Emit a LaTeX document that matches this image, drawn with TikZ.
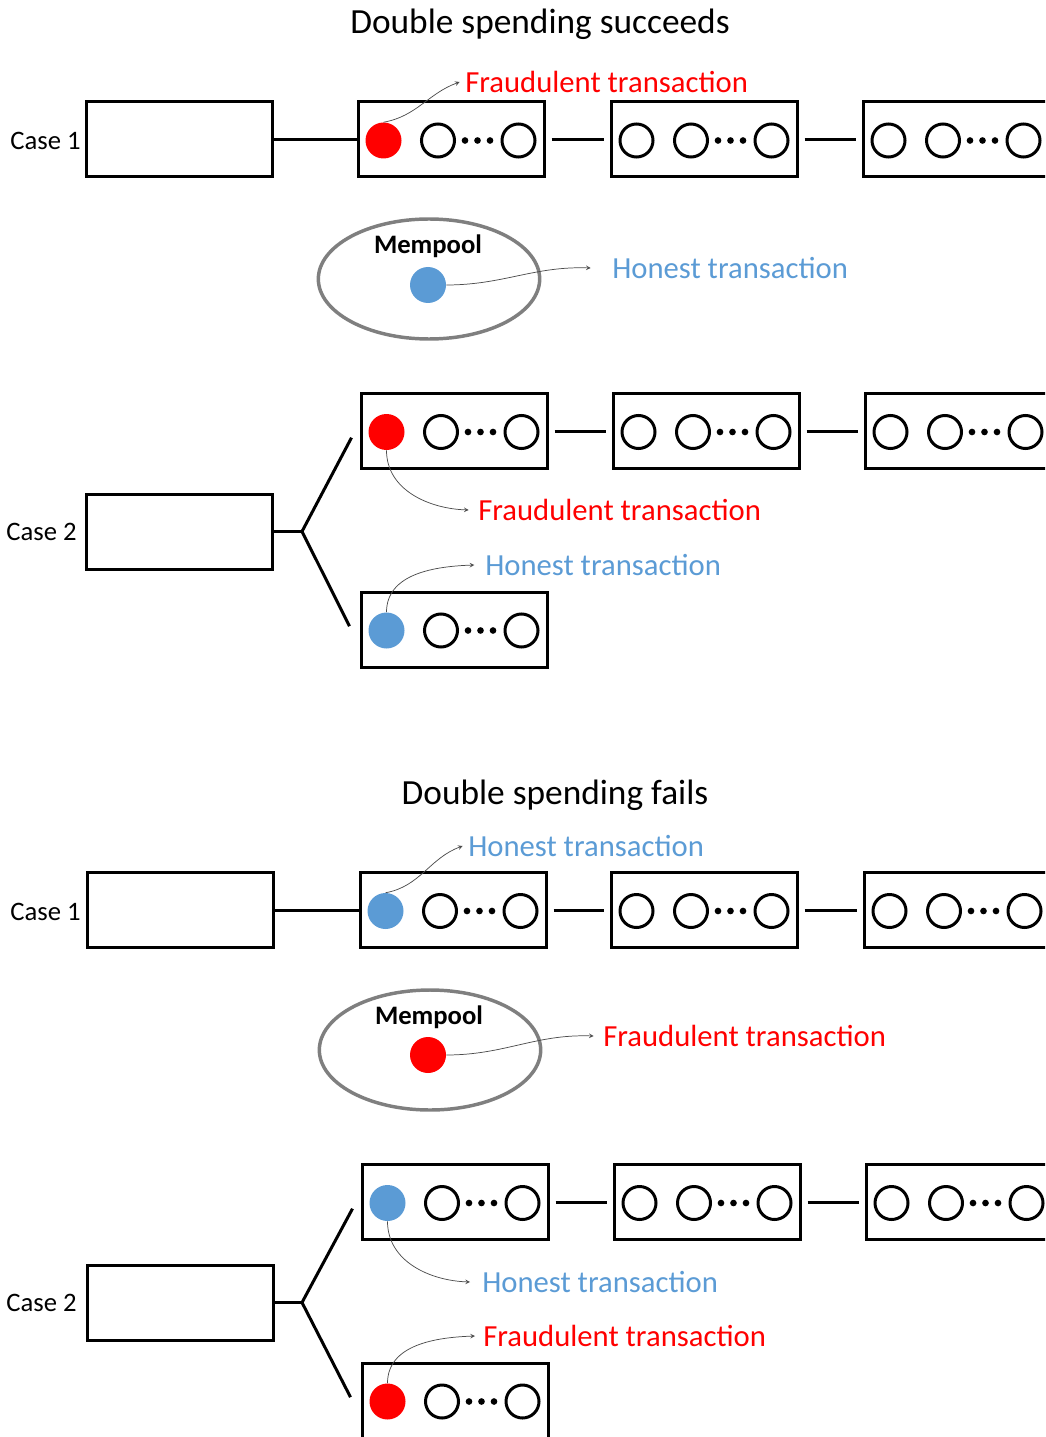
\documentclass[tikz,border=0pt]{standalone}
\usepackage{fontspec}
\setmainfont{Carlito}
\usetikzlibrary{shapes.geometric,arrows}
\definecolor{fraudred}{HTML}{FF0000}
\definecolor{honestblue}{HTML}{5B9BD5}
\definecolor{poolgray}{HTML}{7F7F7F}
\tikzstyle{block} = [ rectangle, draw = black, line width = 2.25pt, %
                      minimum width = 139.5pt, minimum height = 56.25pt, %
                      inner sep = 0pt ]
\tikzstyle{tx} = [ circle, draw = black, line width = 2.25pt, %
                   minimum size = 24.75pt, inner sep = 0pt ]
\tikzstyle{txdot} = [ circle, minimum size = 27pt, inner sep = 0pt ]
\tikzstyle{fraudtx} = [ txdot, fill = fraudred ]
\tikzstyle{honesttx} = [ txdot, fill = honestblue ]
\tikzstyle{ell} = [ circle, fill = black, minimum size = 5pt, inner sep = 0pt ]
\tikzstyle{link} = [ line width = 2.25pt ]
\tikzstyle{arrow} = [ line width = 0.55pt, ->, >=stealth, draw = black!70 ]
\tikzstyle{heading} = [ font = \fontsize{26.5}{30}\selectfont ]
\tikzstyle{caselabel} = [ anchor = east, inner sep = 0pt, %
                          font = \fontsize{20}{24}\selectfont ]
\tikzstyle{txlabel} = [ anchor = west, inner sep = 0pt, %
                        font = \fontsize{23}{27}\selectfont ]
\tikzstyle{fraud} = [ txlabel, text = fraudred ]
\tikzstyle{honest} = [ txlabel, text = honestblue ]
\tikzstyle{mempool} = [ ellipse, draw = poolgray, line width = 2.6pt, %
                        minimum width = 166pt, minimum height = 90pt ]
\tikzstyle{poolname} = [ font = \fontsize{20}{24}\selectfont\bfseries ]
% block: name, x, y, style of the first transaction
\newcommand{\chainblock}[4]{%
  \node (#1) [block] at (#2,#3) {};
  \node (#1-tx) [#4] at ({#2-67.5},{#3+1}) {};
  \node (#1-a) [tx] at ({#2-13},{#3+1}) {};
  \node (#1-d1) [ell] at ({#2+14},{#3+1}) {};
  \node (#1-d2) [ell] at ({#2+26.5},{#3+1}) {};
  \node (#1-d3) [ell] at ({#2+39},{#3+1}) {};
  \node (#1-b) [tx] at ({#2+67.5},{#3+1}) {};}

\begin{document}
\begin{tikzpicture}[x=0.75pt, y=-0.75pt]
      \useasboundingbox (0,0) rectangle (1045,1437);
      \clip (0,0) rectangle (1045,1437);
      % Double spending succeeds
      \node (title1) [heading] at (540,24) {Double spending succeeds};
      % Case 1
      \node (case1a) [caselabel] at (81,141) {Case 1};
      \node (g1) [block] at (179,139.5) {};
      \chainblock{a1}{451}{139.5}{fraudtx}
      \chainblock{a2}{704}{139.5}{tx}
      \chainblock{a3}{956}{139.5}{tx}
      \node (flab1) [fraud] at (465,82) {Fraudulent transaction};
      % Mempool
      \node (pool1) [mempool] at (429,279) {};
      \node (pool1-name) [poolname] at (428,246) {Mempool};
      \node (pool1-tx) [honesttx] at (428,285) {};
      \node (hlab1) [honest] at (612,268) {Honest transaction};
      % Case 2
      \node (case2a) [caselabel] at (77,532) {Case 2};
      \node (g2) [block] at (179,531.5) {};
      \chainblock{b1}{454}{431}{fraudtx}
      \chainblock{b2}{706}{431}{tx}
      \chainblock{b3}{958}{431}{tx}
      \chainblock{b4}{454}{629.5}{honesttx}
      \coordinate (fork2) at (302,531.5);
      \node (flab2) [fraud] at (478,510) {Fraudulent transaction};
      \node (hlab2) [honest] at (485,565) {Honest transaction};
      % Double spending fails
      \node (title2) [heading] at (555,795) {Double spending fails};
      % Case 1
      \node (case1b) [caselabel] at (81,912) {Case 1};
      \node (g3) [block] at (180,910) {};
      \chainblock{c1}{453}{910}{honesttx}
      \chainblock{c2}{704}{910}{tx}
      \chainblock{c3}{957}{910}{tx}
      \node (hlab3) [honest] at (468,846) {Honest transaction};
      % Mempool
      \node (pool2) [mempool] at (430,1050) {};
      \node (pool2-name) [poolname] at (429,1017) {Mempool};
      \node (pool2-tx) [fraudtx] at (428,1055) {};
      \node (flab3) [fraud] at (603,1036) {Fraudulent transaction};
      % Case 2
      \node (case2b) [caselabel] at (77,1303) {Case 2};
      \node (g4) [block] at (180,1302.5) {};
      \chainblock{d1}{455}{1202}{honesttx}
      \chainblock{d2}{707}{1202}{tx}
      \chainblock{d3}{959}{1202}{tx}
      \chainblock{d4}{455}{1400.5}{fraudtx}
      \coordinate (fork4) at (302,1302.5);
      \node (hlab4) [honest] at (482,1282) {Honest transaction};
      \node (flab4) [fraud] at (483,1336) {Fraudulent transaction};
      % Links
      \draw [link] (g1.east) -- (a1.west);
      \draw [link] ([xshift=4.5pt]a1.east) -- ([xshift=-4.5pt]a2.west);
      \draw [link] ([xshift=4.5pt]a2.east) -- ([xshift=-4.5pt]a3.west);
      \draw [link] (g2.east) -- (fork2);
      \draw [link] ([xshift=-6pt,yshift=-5pt]b1.west) -- (fork2) %
        -- ([xshift=-7.5pt,yshift=2.5pt]b4.west);
      \draw [link] ([xshift=4.5pt]b1.east) -- ([xshift=-4.5pt]b2.west);
      \draw [link] ([xshift=4.5pt]b2.east) -- ([xshift=-4.5pt]b3.west);
      \draw [link] (g3.east) -- (c1.west);
      \draw [link] ([xshift=4.5pt]c1.east) -- ([xshift=-4.5pt]c2.west);
      \draw [link] ([xshift=4.5pt]c2.east) -- ([xshift=-4.5pt]c3.west);
      \draw [link] (g4.east) -- (fork4);
      \draw [link] ([xshift=-6pt,yshift=-5pt]d1.west) -- (fork4) %
        -- ([xshift=-7.5pt,yshift=2.5pt]d4.west);
      \draw [link] ([xshift=4.5pt]d1.east) -- ([xshift=-4.5pt]d2.west);
      \draw [link] ([xshift=4.5pt]d2.east) -- ([xshift=-4.5pt]d3.west);
      % Arrows
      \draw [arrow] (a1-tx.north) to[out=10,in=200] ([xshift=-4pt]flab1.west);
      \draw [arrow] (pool1-tx.east) to[out=0,in=178] ([xshift=-16pt]hlab1.west);
      \draw [arrow] (b1-tx.south) to[out=-90,in=178] ([xshift=-7pt]flab2.west);
      \draw [arrow] (b4-tx.north) to[out=90,in=182] ([xshift=-8pt]hlab2.west);
      \draw [arrow] (c1-tx.north) to[out=10,in=200] ([xshift=-4pt]hlab3.west);
      \draw [arrow] (pool2-tx.east) to[out=0,in=178] ([xshift=-7pt]flab3.west);
      \draw [arrow] (d1-tx.south) to[out=-90,in=178] ([xshift=-9pt]hlab4.west);
      \draw [arrow] (d4-tx.north) to[out=90,in=182] ([xshift=-6pt]flab4.west);
\end{tikzpicture}
\end{document}
